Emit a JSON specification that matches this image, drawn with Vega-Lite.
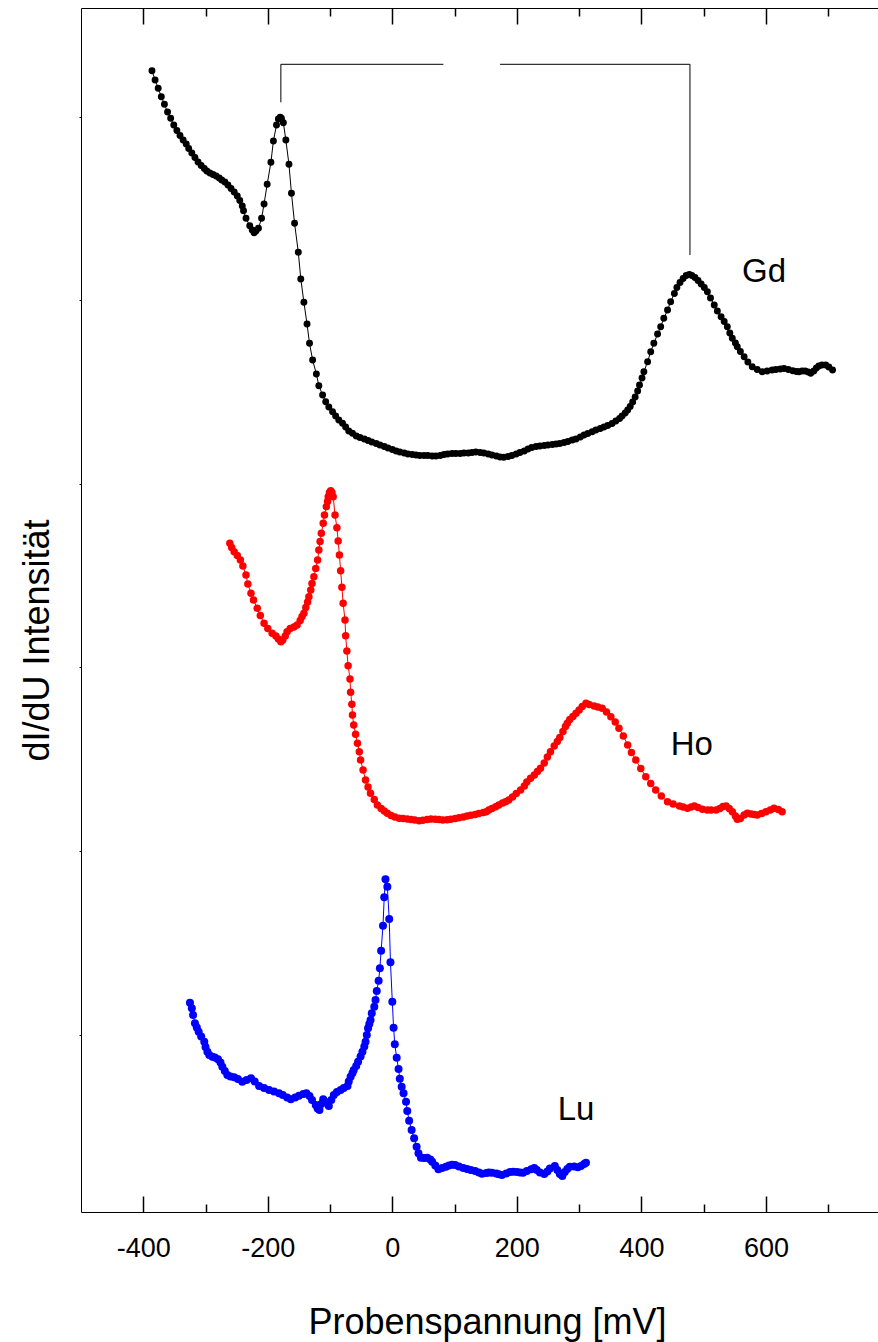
{
 "$schema": "https://vega.github.io/schema/vega-lite/v6.json",
 "width": 797, "height": 1204,
 "autosize": {"type": "none"},
 "padding": {"left": 81, "top": 8, "right": 0, "bottom": 130},
 "background": "white",
 "config": {"view": {"stroke": "black", "strokeWidth": 1}, "font": "Liberation Sans"},
 "datasets": {
  "curves": [
{"el":"Gd","U":-386,"I":11.413},{"el":"Gd","U":-381,"I":11.32},{"el":"Gd","U":-376,"I":11.237},{"el":"Gd","U":-371,"I":11.153},{"el":"Gd","U":-366,"I":11.077},{"el":"Gd","U":-361,"I":11.0},{"el":"Gd","U":-356,"I":10.937},{"el":"Gd","U":-351,"I":10.87},{"el":"Gd","U":-346,"I":10.815},{"el":"Gd","U":-341,"I":10.765},{"el":"Gd","U":-336,"I":10.72},{"el":"Gd","U":-331,"I":10.68},{"el":"Gd","U":-327,"I":10.635},{"el":"Gd","U":-322,"I":10.59},{"el":"Gd","U":-317,"I":10.545},{"el":"Gd","U":-312,"I":10.5},{"el":"Gd","U":-307,"I":10.465},{"el":"Gd","U":-302,"I":10.435},{"el":"Gd","U":-298,"I":10.41},{"el":"Gd","U":-293,"I":10.39},{"el":"Gd","U":-288,"I":10.375},{"el":"Gd","U":-283,"I":10.36},{"el":"Gd","U":-278,"I":10.34},{"el":"Gd","U":-274,"I":10.32},{"el":"Gd","U":-269,"I":10.3},{"el":"Gd","U":-264,"I":10.27},{"el":"Gd","U":-259,"I":10.235},{"el":"Gd","U":-254,"I":10.2},{"el":"Gd","U":-249,"I":10.16},{"el":"Gd","U":-245,"I":10.115},{"el":"Gd","U":-241,"I":10.06},{"el":"Gd","U":-239,"I":10.013},{"el":"Gd","U":-235,"I":9.937},{"el":"Gd","U":-229,"I":9.863},{"el":"Gd","U":-225,"I":9.82},{"el":"Gd","U":-222,"I":9.793},{"el":"Gd","U":-219,"I":9.81},{"el":"Gd","U":-215,"I":9.837},{"el":"Gd","U":-210,"I":9.937},{"el":"Gd","U":-206,"I":10.08},{"el":"Gd","U":-201,"I":10.277},{"el":"Gd","U":-195,"I":10.497},{"el":"Gd","U":-191,"I":10.71},{"el":"Gd","U":-186,"I":10.87},{"el":"Gd","U":-183,"I":10.93},{"el":"Gd","U":-180,"I":10.947},{"el":"Gd","U":-178,"I":10.935},{"el":"Gd","U":-175,"I":10.893},{"el":"Gd","U":-171,"I":10.72},{"el":"Gd","U":-166,"I":10.477},{"el":"Gd","U":-162,"I":10.187},{"el":"Gd","U":-157,"I":9.887},{"el":"Gd","U":-151,"I":9.597},{"el":"Gd","U":-147,"I":9.33},{"el":"Gd","U":-142,"I":9.097},{"el":"Gd","U":-137,"I":8.88},{"el":"Gd","U":-133,"I":8.687},{"el":"Gd","U":-128,"I":8.52},{"el":"Gd","U":-122,"I":8.38},{"el":"Gd","U":-118,"I":8.263},{"el":"Gd","U":-112,"I":8.17},{"el":"Gd","U":-107,"I":8.103},{"el":"Gd","U":-102,"I":8.05},{"el":"Gd","U":-96,"I":8.003},{"el":"Gd","U":-91,"I":7.96},{"el":"Gd","U":-86,"I":7.92},{"el":"Gd","U":-80,"I":7.887},{"el":"Gd","U":-75,"I":7.85},{"el":"Gd","U":-70,"I":7.81},{"el":"Gd","U":-64,"I":7.787},{"el":"Gd","U":-58,"I":7.76},{"el":"Gd","U":-52,"I":7.745},{"el":"Gd","U":-45,"I":7.73},{"el":"Gd","U":-39,"I":7.715},{"el":"Gd","U":-33,"I":7.7},{"el":"Gd","U":-26,"I":7.685},{"el":"Gd","U":-20,"I":7.67},{"el":"Gd","U":-13,"I":7.655},{"el":"Gd","U":-7,"I":7.64},{"el":"Gd","U":0,"I":7.625},{"el":"Gd","U":6,"I":7.61},{"el":"Gd","U":12,"I":7.6},{"el":"Gd","U":19,"I":7.59},{"el":"Gd","U":25,"I":7.58},{"el":"Gd","U":32,"I":7.575},{"el":"Gd","U":38,"I":7.57},{"el":"Gd","U":44,"I":7.565},{"el":"Gd","U":51,"I":7.565},{"el":"Gd","U":57,"I":7.565},{"el":"Gd","U":64,"I":7.56},{"el":"Gd","U":70,"I":7.56},{"el":"Gd","U":77,"I":7.565},{"el":"Gd","U":83,"I":7.575},{"el":"Gd","U":89,"I":7.58},{"el":"Gd","U":96,"I":7.585},{"el":"Gd","U":102,"I":7.585},{"el":"Gd","U":109,"I":7.585},{"el":"Gd","U":115,"I":7.59},{"el":"Gd","U":122,"I":7.59},{"el":"Gd","U":128,"I":7.595},{"el":"Gd","U":134,"I":7.6},{"el":"Gd","U":141,"I":7.595},{"el":"Gd","U":147,"I":7.59},{"el":"Gd","U":154,"I":7.58},{"el":"Gd","U":160,"I":7.57},{"el":"Gd","U":167,"I":7.56},{"el":"Gd","U":173,"I":7.55},{"el":"Gd","U":179,"I":7.547},{"el":"Gd","U":186,"I":7.555},{"el":"Gd","U":192,"I":7.565},{"el":"Gd","U":199,"I":7.58},{"el":"Gd","U":205,"I":7.595},{"el":"Gd","U":212,"I":7.61},{"el":"Gd","U":218,"I":7.63},{"el":"Gd","U":224,"I":7.645},{"el":"Gd","U":231,"I":7.655},{"el":"Gd","U":237,"I":7.66},{"el":"Gd","U":244,"I":7.665},{"el":"Gd","U":250,"I":7.67},{"el":"Gd","U":257,"I":7.675},{"el":"Gd","U":263,"I":7.68},{"el":"Gd","U":269,"I":7.685},{"el":"Gd","U":276,"I":7.695},{"el":"Gd","U":282,"I":7.705},{"el":"Gd","U":289,"I":7.72},{"el":"Gd","U":295,"I":7.73},{"el":"Gd","U":302,"I":7.75},{"el":"Gd","U":308,"I":7.77},{"el":"Gd","U":314,"I":7.785},{"el":"Gd","U":321,"I":7.803},{"el":"Gd","U":327,"I":7.82},{"el":"Gd","U":334,"I":7.835},{"el":"Gd","U":340,"I":7.85},{"el":"Gd","U":346,"I":7.865},{"el":"Gd","U":353,"I":7.885},{"el":"Gd","U":359,"I":7.91},{"el":"Gd","U":365,"I":7.935},{"el":"Gd","U":369,"I":7.96},{"el":"Gd","U":374,"I":7.99},{"el":"Gd","U":378,"I":8.02},{"el":"Gd","U":382,"I":8.055},{"el":"Gd","U":386,"I":8.1},{"el":"Gd","U":390,"I":8.15},{"el":"Gd","U":394,"I":8.21},{"el":"Gd","U":397,"I":8.27},{"el":"Gd","U":401,"I":8.34},{"el":"Gd","U":404,"I":8.403},{"el":"Gd","U":410,"I":8.503},{"el":"Gd","U":415,"I":8.603},{"el":"Gd","U":420,"I":8.687},{"el":"Gd","U":426,"I":8.78},{"el":"Gd","U":431,"I":8.853},{"el":"Gd","U":436,"I":8.937},{"el":"Gd","U":442,"I":9.02},{"el":"Gd","U":447,"I":9.103},{"el":"Gd","U":453,"I":9.185},{"el":"Gd","U":457,"I":9.245},{"el":"Gd","U":462,"I":9.295},{"el":"Gd","U":467,"I":9.335},{"el":"Gd","U":472,"I":9.365},{"el":"Gd","U":477,"I":9.375},{"el":"Gd","U":481,"I":9.365},{"el":"Gd","U":486,"I":9.345},{"el":"Gd","U":491,"I":9.315},{"el":"Gd","U":496,"I":9.28},{"el":"Gd","U":501,"I":9.245},{"el":"Gd","U":506,"I":9.203},{"el":"Gd","U":511,"I":9.14},{"el":"Gd","U":517,"I":9.07},{"el":"Gd","U":522,"I":9.01},{"el":"Gd","U":528,"I":8.953},{"el":"Gd","U":533,"I":8.905},{"el":"Gd","U":538,"I":8.853},{"el":"Gd","U":542,"I":8.79},{"el":"Gd","U":546,"I":8.737},{"el":"Gd","U":551,"I":8.69},{"el":"Gd","U":554,"I":8.653},{"el":"Gd","U":559,"I":8.605},{"el":"Gd","U":565,"I":8.553},{"el":"Gd","U":571,"I":8.5},{"el":"Gd","U":578,"I":8.453},{"el":"Gd","U":586,"I":8.425},{"el":"Gd","U":594,"I":8.403},{"el":"Gd","U":602,"I":8.41},{"el":"Gd","U":610,"I":8.42},{"el":"Gd","U":616,"I":8.425},{"el":"Gd","U":623,"I":8.43},{"el":"Gd","U":629,"I":8.435},{"el":"Gd","U":636,"I":8.425},{"el":"Gd","U":643,"I":8.413},{"el":"Gd","U":649,"I":8.405},{"el":"Gd","U":653,"I":8.403},{"el":"Gd","U":658,"I":8.41},{"el":"Gd","U":663,"I":8.41},{"el":"Gd","U":668,"I":8.4},{"el":"Gd","U":672,"I":8.387},{"el":"Gd","U":677,"I":8.41},{"el":"Gd","U":681,"I":8.44},{"el":"Gd","U":685,"I":8.46},{"el":"Gd","U":690,"I":8.47},{"el":"Gd","U":696,"I":8.47},{"el":"Gd","U":701,"I":8.45},{"el":"Gd","U":707,"I":8.42},
{"el":"Ho","U":-261,"I":6.687},{"el":"Ho","U":-258,"I":6.645},{"el":"Ho","U":-254,"I":6.603},{"el":"Ho","U":-249,"I":6.565},{"el":"Ho","U":-244,"I":6.52},{"el":"Ho","U":-240,"I":6.46},{"el":"Ho","U":-235,"I":6.37},{"el":"Ho","U":-232,"I":6.28},{"el":"Ho","U":-227,"I":6.187},{"el":"Ho","U":-223,"I":6.12},{"el":"Ho","U":-217,"I":6.037},{"el":"Ho","U":-212,"I":5.965},{"el":"Ho","U":-206,"I":5.887},{"el":"Ho","U":-200,"I":5.835},{"el":"Ho","U":-193,"I":5.787},{"el":"Ho","U":-187,"I":5.76},{"el":"Ho","U":-183,"I":5.73},{"el":"Ho","U":-179,"I":5.703},{"el":"Ho","U":-176,"I":5.72},{"el":"Ho","U":-172,"I":5.76},{"el":"Ho","U":-169,"I":5.803},{"el":"Ho","U":-164,"I":5.835},{"el":"Ho","U":-158,"I":5.85},{"el":"Ho","U":-153,"I":5.87},{"el":"Ho","U":-148,"I":5.915},{"el":"Ho","U":-145,"I":5.955},{"el":"Ho","U":-142,"I":5.987},{"el":"Ho","U":-139,"I":6.045},{"el":"Ho","U":-136,"I":6.1},{"el":"Ho","U":-134,"I":6.153},{"el":"Ho","U":-131,"I":6.22},{"el":"Ho","U":-129,"I":6.285},{"el":"Ho","U":-126,"I":6.353},{"el":"Ho","U":-123,"I":6.435},{"el":"Ho","U":-120,"I":6.52},{"el":"Ho","U":-118,"I":6.62},{"el":"Ho","U":-116,"I":6.705},{"el":"Ho","U":-114,"I":6.787},{"el":"Ho","U":-111,"I":6.887},{"el":"Ho","U":-109,"I":6.97},{"el":"Ho","U":-106,"I":7.053},{"el":"Ho","U":-104,"I":7.105},{"el":"Ho","U":-103,"I":7.153},{"el":"Ho","U":-101,"I":7.195},{"el":"Ho","U":-99,"I":7.213},{"el":"Ho","U":-97,"I":7.195},{"el":"Ho","U":-95,"I":7.153},{"el":"Ho","U":-92,"I":6.97},{"el":"Ho","U":-89,"I":6.843},{"el":"Ho","U":-87,"I":6.71},{"el":"Ho","U":-85,"I":6.57},{"el":"Ho","U":-83,"I":6.413},{"el":"Ho","U":-81,"I":6.247},{"el":"Ho","U":-79,"I":6.087},{"el":"Ho","U":-76,"I":5.92},{"el":"Ho","U":-75,"I":5.763},{"el":"Ho","U":-73,"I":5.61},{"el":"Ho","U":-71,"I":5.463},{"el":"Ho","U":-68,"I":5.33},{"el":"Ho","U":-67,"I":5.197},{"el":"Ho","U":-65,"I":5.077},{"el":"Ho","U":-64,"I":4.97},{"el":"Ho","U":-62,"I":4.87},{"el":"Ho","U":-59,"I":4.777},{"el":"Ho","U":-56,"I":4.687},{"el":"Ho","U":-53,"I":4.603},{"el":"Ho","U":-51,"I":4.52},{"el":"Ho","U":-47,"I":4.42},{"el":"Ho","U":-43,"I":4.32},{"el":"Ho","U":-39,"I":4.25},{"el":"Ho","U":-35,"I":4.187},{"el":"Ho","U":-29,"I":4.125},{"el":"Ho","U":-24,"I":4.07},{"el":"Ho","U":-18,"I":4.035},{"el":"Ho","U":-13,"I":4.01},{"el":"Ho","U":-8,"I":3.987},{"el":"Ho","U":-2,"I":3.965},{"el":"Ho","U":4,"I":3.95},{"el":"Ho","U":11,"I":3.937},{"el":"Ho","U":17,"I":3.935},{"el":"Ho","U":24,"I":3.93},{"el":"Ho","U":30,"I":3.925},{"el":"Ho","U":36,"I":3.92},{"el":"Ho","U":43,"I":3.913},{"el":"Ho","U":49,"I":3.918},{"el":"Ho","U":56,"I":3.925},{"el":"Ho","U":62,"I":3.93},{"el":"Ho","U":69,"I":3.928},{"el":"Ho","U":75,"I":3.924},{"el":"Ho","U":81,"I":3.92},{"el":"Ho","U":88,"I":3.922},{"el":"Ho","U":94,"I":3.927},{"el":"Ho","U":101,"I":3.935},{"el":"Ho","U":107,"I":3.943},{"el":"Ho","U":114,"I":3.95},{"el":"Ho","U":120,"I":3.96},{"el":"Ho","U":126,"I":3.967},{"el":"Ho","U":133,"I":3.975},{"el":"Ho","U":139,"I":3.985},{"el":"Ho","U":146,"I":3.995},{"el":"Ho","U":151,"I":4.003},{"el":"Ho","U":155,"I":4.02},{"el":"Ho","U":160,"I":4.035},{"el":"Ho","U":166,"I":4.053},{"el":"Ho","U":171,"I":4.07},{"el":"Ho","U":177,"I":4.09},{"el":"Ho","U":182,"I":4.103},{"el":"Ho","U":187,"I":4.12},{"el":"Ho","U":193,"I":4.15},{"el":"Ho","U":199,"I":4.185},{"el":"Ho","U":206,"I":4.22},{"el":"Ho","U":212,"I":4.26},{"el":"Ho","U":216,"I":4.3},{"el":"Ho","U":222,"I":4.337},{"el":"Ho","U":228,"I":4.37},{"el":"Ho","U":233,"I":4.405},{"el":"Ho","U":238,"I":4.437},{"el":"Ho","U":244,"I":4.49},{"el":"Ho","U":249,"I":4.55},{"el":"Ho","U":254,"I":4.603},{"el":"Ho","U":260,"I":4.66},{"el":"Ho","U":265,"I":4.705},{"el":"Ho","U":269,"I":4.745},{"el":"Ho","U":274,"I":4.805},{"el":"Ho","U":278,"I":4.855},{"el":"Ho","U":281,"I":4.887},{"el":"Ho","U":285,"I":4.925},{"el":"Ho","U":290,"I":4.955},{"el":"Ho","U":295,"I":4.987},{"el":"Ho","U":300,"I":5.02},{"el":"Ho","U":305,"I":5.055},{"el":"Ho","U":311,"I":5.087},{"el":"Ho","U":316,"I":5.075},{"el":"Ho","U":324,"I":5.06},{"el":"Ho","U":330,"I":5.05},{"el":"Ho","U":337,"I":5.037},{"el":"Ho","U":344,"I":5.0},{"el":"Ho","U":351,"I":4.953},{"el":"Ho","U":358,"I":4.9},{"el":"Ho","U":364,"I":4.837},{"el":"Ho","U":371,"I":4.76},{"el":"Ho","U":378,"I":4.67},{"el":"Ho","U":384,"I":4.595},{"el":"Ho","U":391,"I":4.52},{"el":"Ho","U":399,"I":4.435},{"el":"Ho","U":407,"I":4.353},{"el":"Ho","U":415,"I":4.285},{"el":"Ho","U":423,"I":4.22},{"el":"Ho","U":432,"I":4.16},{"el":"Ho","U":442,"I":4.103},{"el":"Ho","U":451,"I":4.08},{"el":"Ho","U":461,"I":4.06},{"el":"Ho","U":467,"I":4.05},{"el":"Ho","U":474,"I":4.037},{"el":"Ho","U":480,"I":4.05},{"el":"Ho","U":485,"I":4.06},{"el":"Ho","U":491,"I":4.045},{"el":"Ho","U":498,"I":4.027},{"el":"Ho","U":506,"I":4.02},{"el":"Ho","U":512,"I":4.02},{"el":"Ho","U":520,"I":4.02},{"el":"Ho","U":526,"I":4.035},{"el":"Ho","U":531,"I":4.055},{"el":"Ho","U":536,"I":4.06},{"el":"Ho","U":541,"I":4.035},{"el":"Ho","U":546,"I":4.003},{"el":"Ho","U":551,"I":3.96},{"el":"Ho","U":554,"I":3.927},{"el":"Ho","U":559,"I":3.935},{"el":"Ho","U":565,"I":3.97},{"el":"Ho","U":570,"I":3.987},{"el":"Ho","U":576,"I":3.98},{"el":"Ho","U":581,"I":3.975},{"el":"Ho","U":586,"I":3.97},{"el":"Ho","U":593,"I":3.985},{"el":"Ho","U":600,"I":4.003},{"el":"Ho","U":607,"I":4.02},{"el":"Ho","U":613,"I":4.037},{"el":"Ho","U":620,"I":4.025},{"el":"Ho","U":626,"I":4.003},
{"el":"Lu","U":-325,"I":2.093},{"el":"Lu","U":-322,"I":2.037},{"el":"Lu","U":-320,"I":1.97},{"el":"Lu","U":-317,"I":1.887},{"el":"Lu","U":-314,"I":1.845},{"el":"Lu","U":-311,"I":1.803},{"el":"Lu","U":-307,"I":1.755},{"el":"Lu","U":-302,"I":1.703},{"el":"Lu","U":-300,"I":1.65},{"el":"Lu","U":-297,"I":1.603},{"el":"Lu","U":-294,"I":1.57},{"el":"Lu","U":-289,"I":1.553},{"el":"Lu","U":-285,"I":1.545},{"el":"Lu","U":-280,"I":1.527},{"el":"Lu","U":-276,"I":1.495},{"el":"Lu","U":-273,"I":1.453},{"el":"Lu","U":-269,"I":1.41},{"el":"Lu","U":-265,"I":1.37},{"el":"Lu","U":-260,"I":1.355},{"el":"Lu","U":-254,"I":1.347},{"el":"Lu","U":-248,"I":1.33},{"el":"Lu","U":-241,"I":1.303},{"el":"Lu","U":-234,"I":1.32},{"el":"Lu","U":-227,"I":1.337},{"el":"Lu","U":-221,"I":1.305},{"el":"Lu","U":-214,"I":1.26},{"el":"Lu","U":-206,"I":1.24},{"el":"Lu","U":-198,"I":1.22},{"el":"Lu","U":-190,"I":1.205},{"el":"Lu","U":-182,"I":1.187},{"el":"Lu","U":-176,"I":1.17},{"el":"Lu","U":-169,"I":1.145},{"el":"Lu","U":-163,"I":1.127},{"el":"Lu","U":-156,"I":1.145},{"el":"Lu","U":-150,"I":1.163},{"el":"Lu","U":-143,"I":1.18},{"el":"Lu","U":-138,"I":1.187},{"el":"Lu","U":-133,"I":1.16},{"el":"Lu","U":-129,"I":1.12},{"el":"Lu","U":-123,"I":1.07},{"el":"Lu","U":-120,"I":1.035},{"el":"Lu","U":-117,"I":1.02},{"el":"Lu","U":-114,"I":1.08},{"el":"Lu","U":-111,"I":1.127},{"el":"Lu","U":-107,"I":1.1},{"el":"Lu","U":-102,"I":1.06},{"el":"Lu","U":-98,"I":1.12},{"el":"Lu","U":-94,"I":1.17},{"el":"Lu","U":-89,"I":1.2},{"el":"Lu","U":-83,"I":1.22},{"el":"Lu","U":-78,"I":1.24},{"el":"Lu","U":-72,"I":1.26},{"el":"Lu","U":-70,"I":1.305},{"el":"Lu","U":-67,"I":1.353},{"el":"Lu","U":-64,"I":1.39},{"el":"Lu","U":-62,"I":1.42},{"el":"Lu","U":-58,"I":1.46},{"el":"Lu","U":-55,"I":1.503},{"el":"Lu","U":-51,"I":1.555},{"el":"Lu","U":-48,"I":1.603},{"el":"Lu","U":-45,"I":1.655},{"el":"Lu","U":-43,"I":1.703},{"el":"Lu","U":-41,"I":1.77},{"el":"Lu","U":-39,"I":1.837},{"el":"Lu","U":-37,"I":1.88},{"el":"Lu","U":-35,"I":1.92},{"el":"Lu","U":-33,"I":1.987},{"el":"Lu","U":-29,"I":2.053},{"el":"Lu","U":-27,"I":2.12},{"el":"Lu","U":-25,"I":2.21},{"el":"Lu","U":-22,"I":2.313},{"el":"Lu","U":-20,"I":2.437},{"el":"Lu","U":-18,"I":2.613},{"el":"Lu","U":-15,"I":2.863},{"el":"Lu","U":-13,"I":3.147},{"el":"Lu","U":-11,"I":3.327},{"el":"Lu","U":-8,"I":3.253},{"el":"Lu","U":-5,"I":2.93},{"el":"Lu","U":-3,"I":2.497},{"el":"Lu","U":0,"I":2.103},{"el":"Lu","U":2,"I":1.843},{"el":"Lu","U":4,"I":1.677},{"el":"Lu","U":7,"I":1.543},{"el":"Lu","U":10,"I":1.43},{"el":"Lu","U":12,"I":1.333},{"el":"Lu","U":15,"I":1.253},{"el":"Lu","U":18,"I":1.187},{"el":"Lu","U":22,"I":1.103},{"el":"Lu","U":24,"I":1.01},{"el":"Lu","U":27,"I":0.913},{"el":"Lu","U":31,"I":0.82},{"el":"Lu","U":35,"I":0.737},{"el":"Lu","U":39,"I":0.653},{"el":"Lu","U":42,"I":0.587},{"el":"Lu","U":46,"I":0.543},{"el":"Lu","U":51,"I":0.54},{"el":"Lu","U":56,"I":0.543},{"el":"Lu","U":61,"I":0.525},{"el":"Lu","U":64,"I":0.503},{"el":"Lu","U":69,"I":0.465},{"el":"Lu","U":74,"I":0.427},{"el":"Lu","U":80,"I":0.44},{"el":"Lu","U":86,"I":0.453},{"el":"Lu","U":91,"I":0.465},{"el":"Lu","U":96,"I":0.472},{"el":"Lu","U":101,"I":0.47},{"el":"Lu","U":107,"I":0.455},{"el":"Lu","U":114,"I":0.44},{"el":"Lu","U":120,"I":0.43},{"el":"Lu","U":126,"I":0.42},{"el":"Lu","U":133,"I":0.41},{"el":"Lu","U":139,"I":0.395},{"el":"Lu","U":144,"I":0.382},{"el":"Lu","U":151,"I":0.39},{"el":"Lu","U":155,"I":0.395},{"el":"Lu","U":160,"I":0.393},{"el":"Lu","U":167,"I":0.385},{"el":"Lu","U":171,"I":0.378},{"el":"Lu","U":176,"I":0.37},{"el":"Lu","U":183,"I":0.385},{"el":"Lu","U":189,"I":0.4},{"el":"Lu","U":194,"I":0.403},{"el":"Lu","U":200,"I":0.4},{"el":"Lu","U":205,"I":0.395},{"el":"Lu","U":210,"I":0.393},{"el":"Lu","U":216,"I":0.41},{"el":"Lu","U":223,"I":0.428},{"el":"Lu","U":228,"I":0.44},{"el":"Lu","U":232,"I":0.42},{"el":"Lu","U":237,"I":0.395},{"el":"Lu","U":244,"I":0.38},{"el":"Lu","U":249,"I":0.405},{"el":"Lu","U":253,"I":0.435},{"el":"Lu","U":261,"I":0.46},{"el":"Lu","U":265,"I":0.42},{"el":"Lu","U":269,"I":0.38},{"el":"Lu","U":273,"I":0.36},{"el":"Lu","U":277,"I":0.4},{"el":"Lu","U":281,"I":0.43},{"el":"Lu","U":285,"I":0.453},{"el":"Lu","U":292,"I":0.455},{"el":"Lu","U":298,"I":0.447},{"el":"Lu","U":303,"I":0.46},{"el":"Lu","U":308,"I":0.48},{"el":"Lu","U":311,"I":0.493}
  ],
  "bracket": [
   {"seg":"a","o":1,"U":-179,"I":11.097},{"seg":"a","o":2,"U":-179,"I":11.477},{"seg":"a","o":3,"U":82,"I":11.477},
   {"seg":"b","o":1,"U":173,"I":11.477},{"seg":"b","o":2,"U":478,"I":11.477},{"seg":"b","o":3,"U":478,"I":9.57}
  ],
  "labels": [
   {"t":"Gd","U":597,"I":9.4},{"t":"Ho","U":481,"I":4.67},{"t":"Lu","U":295,"I":1.02}
  ]
 },
 "layer": [
  {
   "data": {"name": "curves"},
   "mark": {"type": "line", "strokeWidth": 1},
   "encoding": {
    "x": {"field": "U", "type": "quantitative", "scale": {"domain": [-500, 780], "nice": false, "zero": false},
     "axis": {"orient": "bottom", "offset": -16, "values": [-400, -200, 0, 200, 400, 600], "tickSize": 16, "tickColor": "black", "tickWidth": 1.5, "domain": false, "grid": false,
      "labelFont": "Liberation Sans", "labelFontSize": 27, "labelColor": "black", "labelPadding": 23, "labelFlush": false, "labelOverlap": false,
      "labelExpr": "datum.value < 0 ? '-' + abs(datum.value) : '' + datum.value",
      "title": "Probenspannung [mV]", "titleFont": "Liberation Sans", "titleFontSize": 36, "titleFontWeight": "normal", "titleColor": "black",
      "titleX": 406, "titleY": 137, "titleBaseline": "alphabetic", "titleAlign": "center"}},
    "y": {"field": "I", "type": "quantitative", "scale": {"domain": [0, 12.04], "nice": false, "zero": false},
     "axis": {"orient": "left", "values": [1.77, 3.61, 5.45, 7.28, 9.12, 10.95], "tickSize": 2, "tickColor": "black", "domain": false, "labels": false, "grid": false,
      "title": "dI/dU Intensität", "titleFont": "Liberation Sans", "titleFontSize": 36, "titleFontWeight": "normal", "titleColor": "black",
      "titleAngle": 270, "titleX": -33, "titleY": 632, "titleBaseline": "alphabetic", "titleAlign": "center"}},
    "color": {"field": "el", "type": "nominal", "scale": {"domain": ["Gd", "Ho", "Lu"], "range": ["#000000", "#ff0000", "#0000ff"]}, "legend": null}
   }
  },
  {
   "data": {"name": "curves"},
   "mark": {"type": "point", "filled": true, "opacity": 1, "strokeWidth": 0},
   "encoding": {
    "x": {"field": "U", "type": "quantitative", "scale": {"domain": [-500, 780], "nice": false, "zero": false},
     "axis": {"orient": "bottom", "offset": -8, "values": [-300, -100, 100, 300, 500, 700], "tickSize": 8, "tickColor": "black", "tickWidth": 1.5, "domain": false, "labels": false, "grid": false, "title": null}},
    "y": {"field": "I", "type": "quantitative", "scale": {"domain": [0, 12.04], "nice": false, "zero": false}, "axis": null},
    "color": {"field": "el", "type": "nominal", "scale": {"domain": ["Gd", "Ho", "Lu"], "range": ["#000000", "#ff0000", "#0000ff"]}, "legend": null},
    "size": {"field": "el", "type": "nominal", "scale": {"domain": ["Gd", "Ho", "Lu"], "range": [48, 64, 58]}, "legend": null}
   }
  },
  {
   "data": {"name": "bracket"},
   "mark": {"type": "line", "color": "black", "strokeWidth": 1},
   "encoding": {
    "x": {"field": "U", "type": "quantitative", "scale": {"domain": [-500, 780], "nice": false, "zero": false},
     "axis": {"orient": "top", "offset": -16, "values": [-400, -200, 0, 200, 400, 600], "tickSize": 16, "tickColor": "black", "tickWidth": 1.5, "domain": false, "labels": false, "grid": false, "title": null}},
    "y": {"field": "I", "type": "quantitative", "scale": {"domain": [0, 12.04], "nice": false, "zero": false}, "axis": null},
    "detail": {"field": "seg", "type": "nominal"},
    "order": {"field": "o", "type": "quantitative"}
   }
  },
  {
   "data": {"name": "labels"},
   "mark": {"type": "text", "font": "Liberation Sans", "fontSize": 33, "color": "black", "align": "center", "baseline": "middle"},
   "encoding": {
    "x": {"field": "U", "type": "quantitative", "scale": {"domain": [-500, 780], "nice": false, "zero": false},
     "axis": {"orient": "top", "offset": -8, "values": [-300, -100, 100, 300, 500, 700], "tickSize": 8, "tickColor": "black", "tickWidth": 1.5, "domain": false, "labels": false, "grid": false, "title": null}},
    "y": {"field": "I", "type": "quantitative", "scale": {"domain": [0, 12.04], "nice": false, "zero": false}, "axis": null},
    "text": {"field": "t", "type": "nominal"}
   }
  }
 ],
 "resolve": {"axis": {"x": "independent", "y": "independent"}}
}
